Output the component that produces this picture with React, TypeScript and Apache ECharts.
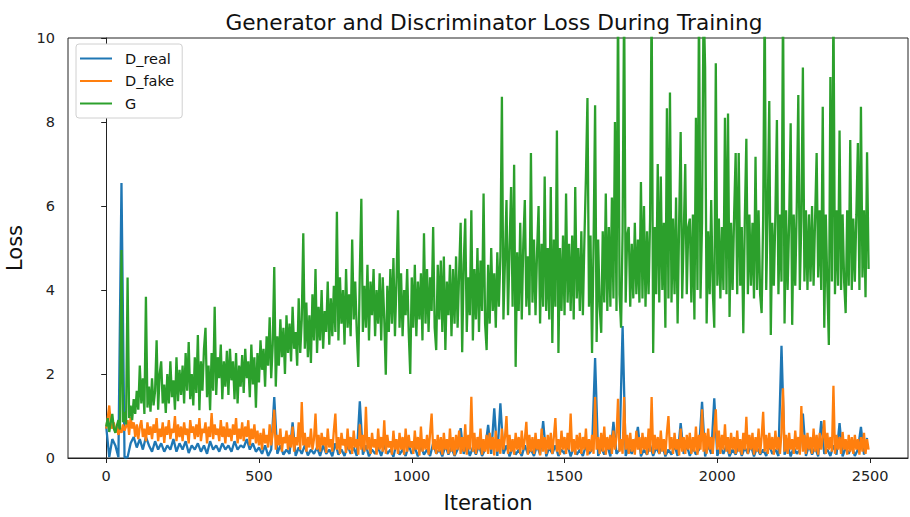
import React, { useEffect, useRef } from "react";
import * as echarts from "echarts";

const STEP_G = 5;
const STEP_FAKE = 5;
const STEP_REAL = 10;
const X_TICKS = [0, 500, 1000, 1500, 2000, 2500];

const gLoss = [
  0.75, 0.95, 0.62, 0.85, 1.05, 0.7, 0.6, 0.78, 0.9, 0.68,
  4.95, 0.85, 1.1, 0.8, 4.3, 0.95, 1.25, 0.9, 1.4, 1.05,
  1.6, 1.15, 2.2, 1.3, 1.9, 1.05, 3.84, 1.2, 1.7, 1.1,
  1.9, 1.25, 1.6, 2.8, 1.15, 2.0, 2.3, 1.3, 1.75, 1.07,
  2.0, 1.3, 2.3, 1.45, 1.85, 1.15, 2.4, 1.35, 2.1, 1.5,
  2.2, 1.3, 2.5, 1.6, 2.76, 1.4, 2.0, 1.25, 2.4, 1.55,
  2.93, 1.14, 2.3, 1.6, 2.6, 3.1, 1.45, 2.2, 1.14, 2.5,
  1.6, 3.6, 1.5, 2.4, 1.9, 2.7, 1.4, 2.3, 1.7, 2.55,
  1.5, 2.6, 1.85, 2.3, 1.4, 2.5, 1.3, 2.2, 1.7, 2.45,
  1.55, 2.6, 1.9, 2.3, 1.45, 2.7, 1.75, 2.4, 1.2, 2.5,
  1.8, 2.8, 2.1, 2.6, 1.7, 2.9, 2.2, 3.35, 1.9, 2.7,
  4.55, 1.7, 2.9, 2.2, 3.3, 2.4, 3.1, 2.0, 3.4, 2.5,
  3.2, 2.3, 3.6, 2.6, 3.0, 2.2, 3.8, 2.5, 3.3, 5.35,
  2.6, 3.7, 2.4, 3.4, 2.26, 3.9, 2.8, 4.5, 2.5, 3.6,
  2.8, 4.0, 2.6, 3.5, 3.0, 4.2, 2.7, 3.8, 2.9, 4.1,
  3.0, 5.86, 2.8, 4.3, 3.2, 4.0, 2.7, 4.5, 3.1, 3.9,
  2.9, 5.2, 3.3, 4.2, 3.0, 2.17, 4.4, 6.17, 3.0, 4.1,
  3.1, 4.6, 2.8, 4.2, 3.4, 4.5, 2.9, 4.0, 3.2, 4.4,
  2.8, 4.3, 3.3, 1.98, 4.1, 3.0, 4.5, 3.2, 4.76, 2.9,
  4.2, 5.9, 3.1, 4.4, 2.9, 4.0, 3.4, 4.5, 3.0, 2.0,
  4.3, 3.1, 4.6, 2.9, 4.2, 3.3, 4.4, 2.8, 5.35, 3.2,
  4.5, 3.0, 4.3, 3.5, 5.5, 3.1, 2.57, 4.6, 3.3, 4.7,
  3.0, 4.8, 2.57, 4.2, 3.4, 4.6, 2.9, 4.5, 3.2, 4.8,
  3.1, 4.4, 5.6, 2.52, 4.6, 5.7, 3.0, 4.3, 3.4, 5.9,
  2.8, 4.5, 3.3, 5.0, 3.0, 4.7, 3.5, 6.3, 3.2, 2.57,
  4.6, 3.2, 5.0, 3.5, 4.4, 3.1, 4.9, 3.6, 4.8, 8.6,
  3.3, 4.7, 6.14, 3.4, 5.0, 6.45, 3.6, 6.98, 2.17, 4.9,
  3.5, 5.6, 3.3, 5.1, 6.14, 3.6, 4.8, 3.4, 7.26, 3.7,
  5.2, 3.4, 4.9, 6.0, 3.2, 5.1, 3.6, 6.7, 3.5, 5.0,
  3.3, 6.45, 2.74, 5.2, 3.6, 7.8, 2.5, 5.0, 3.5, 5.3,
  3.4, 6.3, 3.7, 5.1, 3.5, 5.3, 3.3, 6.45, 3.8, 5.0,
  3.5, 5.4, 3.4, 5.2, 6.7, 8.57, 3.6, 5.3, 2.5, 5.1,
  8.4, 2.76, 5.2, 3.6, 2.98, 5.4, 3.7, 6.3, 3.5, 5.5,
  3.6, 6.2, 3.8, 8.0, 3.5, 11, 3.9, 3.1, 5.4, 11,
  3.7, 5.3, 5.5, 3.6, 5.1, 3.8, 5.6, 3.9, 5.2, 3.7,
  6.57, 3.8, 6.0, 3.6, 5.4, 3.9, 5.7, 11, 2.5, 5.5,
  3.9, 7.0, 3.7, 6.7, 4.0, 5.6, 3.1, 8.33, 3.8, 8.7,
  3.7, 5.7, 3.9, 6.2, 3.2, 5.6, 7.76, 3.8, 5.3, 7.0,
  3.9, 5.5, 5.7, 3.7, 5.8, 3.3, 8.1, 4.0, 11, 3.8,
  5.6, 11, 9.3, 3.2, 5.4, 3.9, 6.14, 4.0, 3.1, 9.4,
  4.1, 5.7, 3.8, 5.5, 4.0, 8.1, 3.9, 8.2, 3.36, 5.6,
  4.0, 5.8, 7.26, 3.9, 7.26, 4.1, 5.5, 2.97, 5.7, 7.6,
  3.9, 5.8, 4.1, 5.6, 3.8, 7.17, 4.0, 5.9, 3.9, 3.45,
  5.7, 11, 4.0, 5.9, 8.5, 2.93, 5.6, 4.1, 5.8, 8.05,
  3.9, 5.8, 4.2, 11, 3.2, 5.9, 4.0, 5.6, 7.97, 3.17,
  5.8, 4.1, 6.0, 8.64, 4.0, 5.7, 9.3, 4.2, 5.9, 4.0,
  5.8, 4.2, 6.0, 4.1, 5.7, 7.26, 4.3, 5.9, 4.0, 8.36,
  3.1, 5.8, 4.1, 2.69, 9.07, 4.2, 11, 3.9, 5.9, 4.1,
  7.8, 4.0, 5.8, 4.2, 3.45, 5.9, 4.1, 7.57, 4.0, 5.7,
  4.2, 5.8, 7.5, 4.0, 8.36, 4.3, 5.9, 3.83, 7.28, 4.5,
];

const dFake = [
  0.7, 0.95, 1.25, 0.8, 0.7, 0.85, 0.6, 0.75, 0.55, 0.7,
  0.6, 0.8, 0.65, 0.75, 0.9, 0.55, 0.98, 0.7, 0.85, 0.5,
  0.8, 0.45, 0.75, 0.9, 0.5, 0.7, 0.4, 0.85, 0.55, 0.75,
  0.45, 0.8, 0.6, 0.95, 0.4, 0.7, 0.5, 0.85, 0.36, 0.75,
  0.55, 0.9, 0.45, 0.7, 0.6, 1.0, 0.4, 0.8, 0.5, 0.75,
  0.4, 0.85, 0.55, 0.7, 0.35, 0.9, 0.6, 0.75, 0.45, 0.8,
  0.5, 0.95, 0.4, 0.7, 0.6, 0.85, 0.35, 0.75, 0.5, 1.07,
  0.45, 0.8, 0.55, 0.7, 0.4, 0.9, 0.5, 0.75, 0.35, 0.85,
  0.5, 0.7, 0.4, 0.8, 0.55, 0.95, 0.35, 0.7, 0.45, 0.85,
  0.4, 0.75, 0.5, 0.9, 0.3, 0.7, 0.45, 0.8, 0.35, 0.65,
  0.3, 0.6, 0.2, 0.7, 0.35, 0.55, 0.25, 0.8, 0.3, 0.6,
  1.15, 0.2, 0.55, 0.3, 0.7, 0.15, 0.5, 0.35, 0.65, 0.2,
  0.55, 0.25, 0.75, 0.15, 0.5, 0.3, 0.85, 0.2, 1.33, 0.3,
  0.6, 0.15, 0.5, 0.25, 0.7, 0.2, 0.45, 1.06, 0.2, 0.55,
  0.15, 0.6, 0.3, 0.5, 0.12, 0.7, 0.25, 0.45, 0.15, 0.65,
  1.06, 0.2, 0.5, 0.1, 0.6, 0.3, 0.45, 0.12, 0.7, 0.2,
  0.5, 0.1, 0.65, 0.25, 0.45, 0.08, 0.8, 0.2, 0.55, 0.15,
  1.22, 0.2, 0.5, 0.1, 0.6, 0.25, 0.45, 0.08, 0.7, 0.2,
  0.5, 0.15, 0.9, 0.1, 0.55, 0.25, 0.4, 0.08, 0.65, 0.2,
  0.45, 0.1, 0.6, 0.2, 0.5, 0.08, 0.7, 0.15, 0.55, 0.25,
  0.4, 0.1, 0.65, 0.2, 0.5, 0.06, 0.75, 0.15, 0.45, 0.2,
  0.55, 0.08, 0.6, 1.06, 0.2, 0.45, 0.1, 0.55, 0.15, 0.5,
  0.08, 0.6, 0.2, 0.45, 0.1, 0.7, 0.15, 0.5, 0.06, 0.55,
  0.2, 0.65, 0.1, 0.5, 0.15, 0.8, 0.08, 0.55, 0.2, 1.46,
  0.15, 0.6, 0.1, 0.5, 0.2, 0.7, 0.08, 0.45, 0.15, 0.55,
  0.1, 0.6, 0.2, 0.5, 0.06, 0.65, 0.15, 0.45, 0.1, 0.7,
  0.2, 0.5, 1.0, 0.1, 0.55, 0.15, 0.45, 0.08, 0.6, 0.2,
  0.5, 0.1, 0.65, 0.2, 0.45, 0.86, 0.08, 0.55, 0.15, 0.5,
  0.1, 0.6, 0.2, 0.45, 0.06, 0.7, 0.15, 0.5, 0.1, 0.55,
  0.2, 0.6, 0.1, 0.5, 0.95, 0.15, 0.45, 0.08, 0.65, 0.2,
  0.5, 0.1, 0.6, 0.2, 1.06, 0.15, 0.45, 0.08, 0.55, 0.2,
  0.6, 0.1, 0.5, 0.2, 0.7, 0.06, 0.45, 0.15, 0.55, 0.1,
  1.45, 0.2, 0.5, 0.1, 0.6, 0.15, 0.75, 0.08, 0.5, 0.2,
  0.55, 0.1, 0.65, 0.2, 0.5, 1.41, 0.15, 0.45, 0.1, 1.45,
  0.2, 0.55, 0.1, 0.6, 0.15, 0.45, 0.08, 0.65, 0.2, 0.5,
  0.1, 0.6, 0.2, 0.5, 0.08, 0.7, 0.15, 1.45, 0.1, 0.55,
  0.2, 0.5, 0.1, 0.65, 0.15, 0.45, 0.08, 0.6, 1.0, 0.2,
  0.5, 0.1, 0.6, 0.2, 0.45, 0.06, 0.7, 0.15, 0.5, 0.1,
  0.55, 0.2, 0.6, 0.1, 0.5, 0.15, 0.75, 0.08, 0.55, 0.2,
  1.16, 0.15, 0.6, 0.1, 0.7, 0.2, 0.5, 0.1, 0.65, 1.16,
  0.2, 0.65, 0.1, 0.55, 0.2, 0.8, 0.15, 0.5, 0.1, 0.6,
  0.2, 0.5, 0.1, 0.65, 0.15, 0.45, 0.08, 0.6, 0.2, 0.98,
  0.1, 0.55, 0.2, 0.6, 0.08, 0.5, 0.15, 0.7, 0.1, 0.5,
  1.1, 0.15, 0.55, 0.1, 0.6, 0.2, 0.5, 0.08, 0.65, 0.2,
  0.5, 0.1, 0.6, 1.66, 0.15, 0.55, 0.1, 0.6, 0.2, 0.45,
  0.1, 0.65, 0.2, 0.5, 0.08, 1.24, 0.15, 0.55, 0.1, 0.6,
  0.2, 0.5, 0.1, 0.7, 0.15, 0.55, 0.08, 0.6, 0.2, 0.5,
  0.9, 0.1, 0.6, 0.2, 0.5, 0.15, 1.72, 0.1, 0.55, 0.2,
  0.5, 0.1, 0.62, 0.2, 0.45, 0.08, 0.55, 0.15, 0.5, 0.1,
  0.55, 0.2, 0.45, 0.08, 0.5, 0.15, 0.6, 0.1, 0.45, 0.2,
];

const dReal = [
  0.75, 0.02, 0.45, 0.3, 0.02, 6.55, 0.01, 0.02, 0.35, 0.5,
  0.25, 0.45, 0.2, 0.5, 0.3, 0.15, 0.4, 0.2, 0.35, 0.15,
  0.3, 0.2, 0.45, 0.15, 0.35, 0.2, 0.4, 0.12, 0.3, 0.2,
  0.35, 0.15, 0.3, 0.1, 0.4, 0.2, 0.3, 0.15, 0.35, 0.2,
  0.3, 0.15, 0.4, 0.2, 0.3, 0.25, 0.45, 0.2, 0.35, 0.15,
  0.25, 0.1, 0.3, 0.05, 0.2, 1.45, 0.1, 0.3, 0.08, 0.2,
  0.1, 0.85, 0.05, 0.25, 0.1, 0.3, 0.06, 0.2, 0.1, 0.25,
  0.05, 0.3, 0.1, 0.2, 0.04, 0.35, 0.08, 0.2, 0.05, 0.3,
  0.1, 0.25, 0.05, 1.35, 0.08, 0.3, 0.04, 0.2, 0.1, 0.25,
  0.05, 0.3, 0.1, 0.2, 0.03, 0.35, 0.08, 0.2, 0.05, 0.3,
  0.1, 0.25, 0.04, 0.3, 0.08, 0.2, 0.05, 0.35, 0.1, 0.2,
  0.04, 0.3, 0.08, 0.25, 0.05, 0.2, 0.71, 0.1, 0.3, 0.05,
  0.25, 0.08, 0.3, 0.05, 0.2, 0.79, 0.1, 1.18, 0.05, 1.3,
  0.1, 0.3, 0.04, 0.25, 0.08, 0.2, 0.05, 0.3, 0.1, 0.2,
  0.05, 0.3, 0.08, 0.88, 0.04, 0.25, 0.1, 0.3, 0.05, 0.2,
  0.1, 0.3, 0.04, 0.25, 0.08, 0.2, 0.05, 0.3, 0.1, 0.2,
  2.38, 0.05, 0.25, 0.08, 0.3, 0.04, 0.86, 0.1, 0.2, 3.14,
  0.05, 0.25, 0.1, 0.3, 0.74, 0.04, 0.2, 0.08, 0.3, 0.05,
  0.25, 0.1, 0.3, 0.04, 0.2, 0.08, 0.3, 0.05, 0.83, 0.1,
  0.3, 0.05, 0.25, 0.08, 0.2, 1.34, 0.04, 0.3, 0.1, 1.42,
  0.05, 0.25, 0.1, 0.3, 0.04, 0.2, 0.08, 0.3, 0.05, 0.25,
  0.1, 0.3, 0.04, 0.25, 0.08, 0.2, 0.05, 0.3, 0.1, 0.2,
  0.05, 2.67, 0.08, 0.3, 0.04, 0.25, 0.1, 0.2, 1.06, 0.05,
  0.3, 0.08, 0.25, 0.04, 0.88, 0.1, 0.2, 0.05, 0.3, 0.08,
  0.83, 0.04, 0.25, 0.1, 0.3, 0.05, 0.2, 0.74, 0.08, 0.48,
];

const FONT = "DejaVu Sans";

function toPairs(values: number[], step: number): [number, number][] {
  return values.map((v, i) => [i * step, v]);
}

export default function App() {
  const ref = useRef<HTMLDivElement>(null);

  useEffect(() => {
    if (!ref.current) return;
    const chart = echarts.init(ref.current, undefined, { renderer: "svg" });
    const lineBase = {
      type: "line" as const,
      showSymbol: false,
      symbol: "none",
      clip: true,
      silent: true,
    };
    chart.setOption({
      animation: false,
      backgroundColor: "#ffffff",
      title: {
        text: "Generator and Discriminator Loss During Training",
        left: 489,
        textAlign: "center",
        top: 6,
        textStyle: { fontFamily: FONT, fontSize: 21.7, fontWeight: "normal", color: "#111" },
      },
      legend: {
        left: 76,
        top: 44,
        orient: "vertical",
        icon: "rect",
        itemWidth: 32,
        itemHeight: 2,
        itemGap: 5.5,
        padding: [6, 8, 6, 4],
        backgroundColor: "#ffffff",
        borderColor: "#d0d0d0",
        borderWidth: 1,
        borderRadius: 3,
        textStyle: {
          fontFamily: FONT,
          fontSize: 14.5,
          color: "#111",
          lineHeight: 17,
          padding: [0, 0, 0, 8],
        },
        data: ["D_real", "D_fake", "G"],
      },
      grid: {
        left: 68,
        top: 38,
        right: 2,
        bottom: 59,
        show: true,
        borderColor: "#222",
        borderWidth: 1,
        containLabel: false,
        outerBoundsMode: "none",
      },
      xAxis: {
        type: "value",
        min: -125,
        max: 2624,
        name: "Iteration",
        nameLocation: "middle",
        nameGap: 34,
        nameTextStyle: { fontFamily: FONT, fontSize: 21, color: "#111" },
        axisLine: { show: true, onZero: false, lineStyle: { color: "#222", width: 1 } },
        axisTick: { show: true, length: 5, lineStyle: { color: "#222" }, customValues: X_TICKS },
        axisLabel: {
          fontFamily: FONT,
          fontSize: 14.5,
          color: "#222",
          margin: 10,
          customValues: X_TICKS,
          formatter: (v: number) => String(v),
        },
        splitLine: { show: false },
      },
      yAxis: {
        type: "value",
        min: 0,
        max: 10,
        interval: 2,
        name: "Loss",
        nameLocation: "middle",
        nameGap: 41,
        nameTextStyle: { fontFamily: FONT, fontSize: 21, color: "#111" },
        axisLine: { show: true, lineStyle: { color: "#222", width: 1 } },
        axisTick: { show: true, length: 5, lineStyle: { color: "#222" } },
        axisLabel: { fontFamily: FONT, fontSize: 14.5, color: "#222", margin: 13 },
        splitLine: { show: false },
      },
      series: [
        {
          ...lineBase,
          name: "D_real",
          data: toPairs(dReal, STEP_REAL),
          lineStyle: { color: "#1f77b4", width: 2.3 },
          itemStyle: { color: "#1f77b4" },
          z: 2,
        },
        {
          ...lineBase,
          name: "D_fake",
          data: toPairs(dFake, STEP_FAKE),
          lineStyle: { color: "#ff7f0e", width: 2.3 },
          itemStyle: { color: "#ff7f0e" },
          z: 3,
        },
        {
          ...lineBase,
          name: "G",
          data: toPairs(gLoss, STEP_G),
          lineStyle: { color: "#2ca02c", width: 2.3 },
          itemStyle: { color: "#2ca02c" },
          z: 4,
        },
      ],
    });
    return () => chart.dispose();
  }, []);

  return (
    <div
      ref={ref}
      style={{ position: "fixed", left: 0, top: 0, width: 910, height: 517 }}
    />
  );
}
